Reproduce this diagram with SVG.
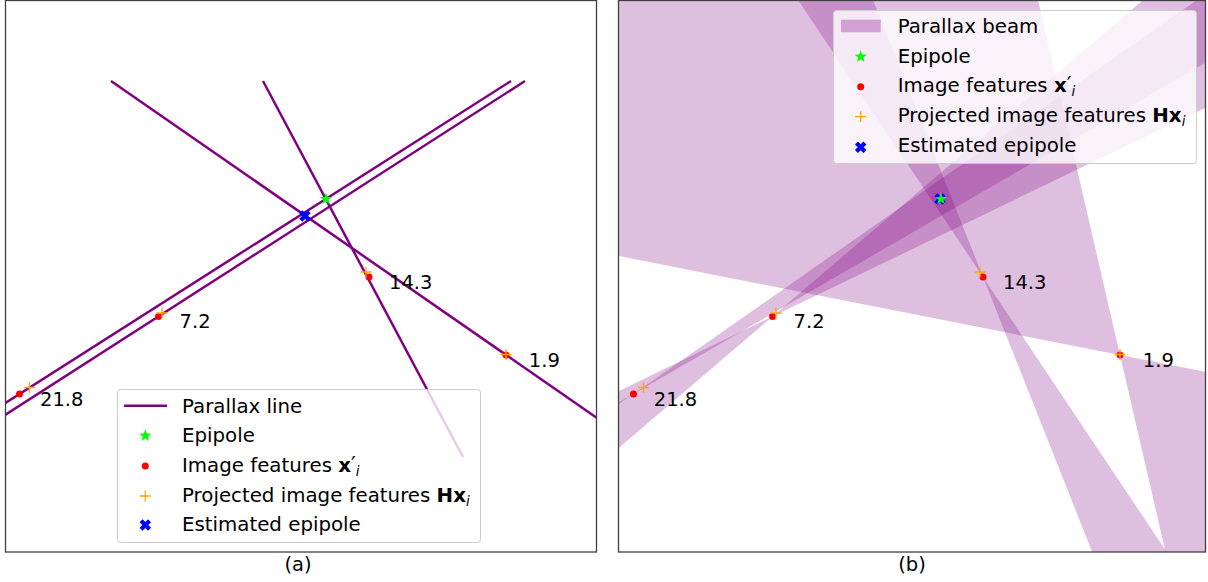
<svg xmlns="http://www.w3.org/2000/svg" xmlns:xlink="http://www.w3.org/1999/xlink" width="1208" height="582" viewBox="0 0 1208 582">
<style>
text{font-family:"DejaVu Sans","Liberation Sans",sans-serif;font-size:19.5px;fill:#000}
.lt{font-size:19.8px}
.pline{stroke:#800080;stroke-width:2.5;fill:none}
.beam{fill:#800080;fill-opacity:0.25;stroke:none}
.frame{fill:none;stroke:#404040;stroke-width:1.3}
.legend{fill:#fff;fill-opacity:0.8;stroke:#ccc;stroke-width:1}
.feat{fill:#ff0000}
.proj{stroke:#ffa500;stroke-width:1.3;fill:none}
.sub{font-style:italic;font-size:13.5px}
</style>
<defs>
<clipPath id="clipA"><rect x="5" y="0" width="592" height="552"/></clipPath>
<clipPath id="clipB"><rect x="619" y="0" width="586" height="552"/></clipPath>
<polygon id="star" fill="#00ff00" points="0,-6.5 1.53,-2.1 6.18,-2.01 2.47,0.8 3.82,5.26 0,2.6 -3.82,5.26 -2.47,0.8 -6.18,-2.01 -1.53,-2.1"/>
<polygon id="xmark" fill="#0000ff" transform="rotate(45)" points="-2.1,-6 2.1,-6 2.1,-2.1 6,-2.1 6,2.1 2.1,2.1 2.1,6 -2.1,6 -2.1,2.1 -6,2.1 -6,-2.1 -2.1,-2.1"/>
<g id="dot"><circle r="3.5" class="feat"/></g>
<path id="plus" class="proj" d="M-5.5,0H5.5M0,-5.5V5.5"/>
</defs>

<!-- Panel (a) -->
<g id="panelA">
<g id="connectorsA" clip-path="url(#clipA)">
<line class="pline" x1="263" y1="81" x2="463" y2="457"/>
<line class="pline" x1="111" y1="81" x2="600" y2="420"/>
<line class="pline" x1="0" y1="406.4" x2="511" y2="81"/>
<line class="pline" x1="0" y1="418.3" x2="525" y2="81"/>
</g>
<g id="pointsA">
<use href="#dot" x="19.5" y="394"/><use href="#plus" x="29.5" y="387.5"/>
<use href="#dot" x="158.5" y="316.5"/><use href="#plus" x="162" y="313"/>
<use href="#dot" x="369" y="277"/><use href="#plus" x="366" y="272"/>
<use href="#dot" x="506" y="355"/><use href="#plus" x="506" y="354.5"/>
<use href="#xmark" x="305" y="216"/>
<use href="#star" x="326" y="199"/>
</g>
<g id="labelsA">
<text x="40" y="406">21.8</text>
<text x="179.6" y="328">7.2</text>
<text x="389" y="289">14.3</text>
<text x="528.8" y="367">1.9</text>
</g>
<g id="legendA">
<rect class="legend" x="117.5" y="389.5" width="363" height="153" rx="3"/>
<line class="pline" x1="124" y1="405.7" x2="167" y2="405.7"/>
<text class="lt" x="182" y="412.5">Parallax line</text>
<use href="#star" x="145.3" y="435.7"/>
<text class="lt" x="182" y="442">Epipole</text>
<use href="#dot" x="145.3" y="466"/>
<text class="lt" x="182" y="472">Image features <tspan font-weight="bold">x</tspan><tspan font-size="21px">′</tspan><tspan class="sub" dy="4">i</tspan></text>
<use href="#plus" x="145.3" y="496"/>
<text class="lt" x="182" y="501.5">Projected image features <tspan font-weight="bold">Hx</tspan><tspan class="sub" dy="4">i</tspan></text>
<use href="#xmark" x="145.3" y="525"/>
<text class="lt" x="182" y="531">Estimated epipole</text>
</g>
<rect class="frame" x="5.5" y="0.5" width="591" height="551.5"/>
<text x="298" y="571" text-anchor="middle">(a)</text>
</g>

<!-- Panel (b) -->
<g id="panelB">
<g id="beams" clip-path="url(#clipB)">
<polygon class="beam" points="1120,355 619,256 619,0 1038,0"/>
<polygon class="beam" points="1120,355 1205,371.8 1205,552 1165.5,552"/>
<polygon class="beam" points="983,277 798,0 873,0"/>
<polygon class="beam" points="983,277 1166.7,552 1092.2,552"/>
<polygon class="beam" points="772.5,316.5 1143,0 1205,0 1205,108"/>
<polygon class="beam" points="772.5,316.5 619,390.9 619,447.7"/>
<polygon class="beam" points="633.5,394 1197,0 1205,0 1205,63"/>
<polygon class="beam" points="633.5,394 619,403.8 619,402.1"/>
</g>
<g id="pointsB">
<use href="#dot" x="633.5" y="394"/><use href="#plus" x="643.5" y="387.5"/>
<use href="#dot" x="772.5" y="316.5"/><use href="#plus" x="776" y="313"/>
<use href="#dot" x="983" y="277"/><use href="#plus" x="980" y="272"/>
<use href="#dot" x="1120" y="355"/><use href="#plus" x="1120" y="354.5"/>
<use href="#xmark" x="940" y="199"/>
<use href="#star" x="941" y="199"/>
</g>
<g id="labelsB">
<text x="653.8" y="406">21.8</text>
<text x="793.6" y="328">7.2</text>
<text x="1003" y="289">14.3</text>
<text x="1142.8" y="367">1.9</text>
</g>
<g id="legendB">
<rect class="legend" x="833.5" y="10.5" width="363" height="153" rx="3"/>
<rect x="841" y="19.7" width="39.7" height="12.6" fill="#800080" fill-opacity="0.3"/>
<text class="lt" x="897.7" y="33">Parallax beam</text>
<use href="#star" x="860.7" y="56.7"/>
<text class="lt" x="897.7" y="62.5">Epipole</text>
<use href="#dot" x="860.7" y="86.7"/>
<text class="lt" x="897.7" y="92.3">Image features <tspan font-weight="bold">x</tspan><tspan font-size="21px">′</tspan><tspan class="sub" dy="4">i</tspan></text>
<use href="#plus" x="860.7" y="116.7"/>
<text class="lt" x="897.7" y="122">Projected image features <tspan font-weight="bold">Hx</tspan><tspan class="sub" dy="4">i</tspan></text>
<use href="#xmark" x="860.7" y="147.3"/>
<text class="lt" x="897.7" y="151.7">Estimated epipole</text>
</g>
<rect class="frame" x="618.5" y="0.5" width="587" height="551.5"/>
<text x="912" y="571" text-anchor="middle">(b)</text>
</g>
</svg>
